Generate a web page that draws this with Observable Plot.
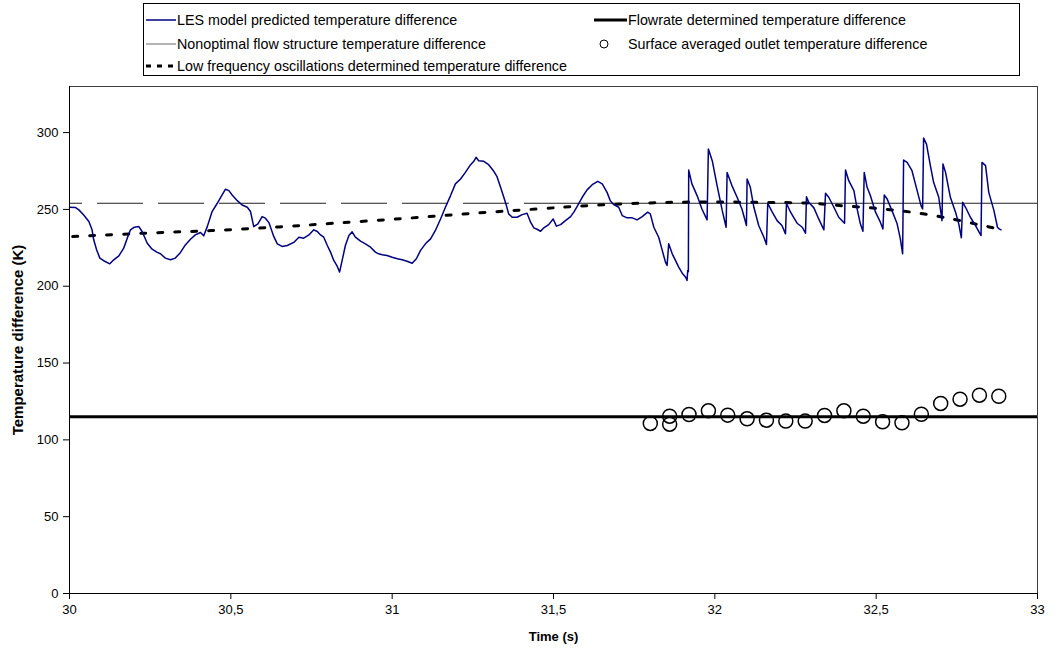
<!DOCTYPE html>
<html>
<head>
<meta charset="utf-8">
<script src="https://cdn.jsdelivr.net/npm/d3@7"></script>
<script src="https://cdn.jsdelivr.net/npm/@observablehq/plot@0.6"></script>
<style>
  html, body { margin: 0; padding: 0; background: #fff; }
  body { width: 1060px; height: 648px; overflow: hidden; font-family: "Liberation Sans", Arial, sans-serif; }
  #legend { position: relative; width: 1060px; height: 80px; }
  #legend .box { position: absolute; left: 143px; top: 3px; width: 875px; height: 71px; border: 1px solid #000; }
  #legend .item { position: absolute; height: 16px; display: flex; align-items: center; font-size: 14.3px; color: #000; white-space: nowrap; }
  #legend svg { display: block; flex: none; }
</style>
</head>
<body>
<div id="legend"><div class="box"></div></div>
<div id="chart"></div>
<script>
// LES model predicted temperature difference (s, K)
const lesTime = [
  30.000, 30.019, 30.029, 30.044, 30.060, 30.070, 30.075, 30.084, 30.094, 30.106,
  30.125, 30.137, 30.153, 30.168, 30.179, 30.189, 30.201, 30.215, 30.225, 30.241,
  30.256, 30.272, 30.282, 30.297, 30.313, 30.328, 30.344, 30.359, 30.375, 30.390,
  30.406, 30.416, 30.427, 30.442, 30.458, 30.473, 30.483, 30.494, 30.504, 30.520,
  30.535, 30.551, 30.561, 30.571, 30.584, 30.597, 30.607, 30.618, 30.633, 30.644,
  30.659, 30.675, 30.695, 30.711, 30.726, 30.742, 30.757, 30.768, 30.778, 30.788,
  30.799, 30.809, 30.819, 30.830, 30.837, 30.845, 30.855, 30.866, 30.876, 30.886,
  30.902, 30.917, 30.933, 30.948, 30.958, 30.969, 30.984, 31.000, 31.016, 31.031,
  31.046, 31.062, 31.075, 31.088, 31.103, 31.119, 31.134, 31.150, 31.165, 31.181,
  31.196, 31.212, 31.227, 31.243, 31.253, 31.260, 31.268, 31.284, 31.299, 31.315,
  31.325, 31.336, 31.346, 31.354, 31.361, 31.372, 31.387, 31.403, 31.418, 31.429,
  31.439, 31.449, 31.460, 31.470, 31.485, 31.499, 31.509, 31.522, 31.537, 31.553,
  31.563, 31.573, 31.589, 31.604, 31.620, 31.637, 31.651, 31.666, 31.676, 31.687,
  31.702, 31.713, 31.728, 31.744, 31.759, 31.775, 31.792, 31.800, 31.811, 31.826,
  31.837, 31.847, 31.852, 31.857, 31.868, 31.878, 31.888, 31.899, 31.909, 31.914,
  31.916, 31.918, 31.919, 31.929, 31.945, 31.960, 31.976, 31.980, 31.992, 32.007,
  32.023, 32.035, 32.038, 32.053, 32.069, 32.084, 32.098, 32.100, 32.110, 32.121,
  32.136, 32.152, 32.160, 32.164, 32.178, 32.193, 32.208, 32.219, 32.222, 32.234,
  32.245, 32.255, 32.271, 32.281, 32.284, 32.291, 32.307, 32.322, 32.338, 32.343,
  32.353, 32.369, 32.384, 32.402, 32.405, 32.415, 32.431, 32.441, 32.451, 32.459,
  32.463, 32.472, 32.482, 32.498, 32.513, 32.521, 32.525, 32.534, 32.549, 32.565,
  32.575, 32.582, 32.585, 32.596, 32.611, 32.627, 32.639, 32.644, 32.647, 32.656,
  32.668, 32.678, 32.694, 32.704, 32.707, 32.715, 32.730, 32.746, 32.756, 32.764,
  32.768, 32.777, 32.792, 32.808, 32.825, 32.828, 32.839, 32.849, 32.865, 32.876,
  32.881, 32.887
];
const lesValue = [
  251.4, 251.2, 249.7, 246.4, 242.1, 236.7, 230.2, 223.7, 218.3, 216.6,
  214.6, 217.2, 219.8, 224.8, 231.3, 236.7, 238.4, 238.8, 235.6, 228.0,
  224.1, 222.0, 221.1, 218.3, 217.2, 218.3, 222.0, 226.9, 230.6, 233.4,
  235.0, 232.8, 238.8, 248.6, 254.0, 259.4, 263.1, 262.2, 259.4, 255.7,
  252.9, 251.4, 248.6, 238.8, 240.6, 245.3, 244.3, 241.4, 232.4, 227.6,
  225.9, 226.5, 228.5, 231.9, 231.3, 233.4, 236.7, 235.6, 233.4, 231.9,
  226.5, 222.2, 216.8, 212.9, 209.2, 216.8, 226.5, 233.0, 235.4, 231.9,
  229.3, 227.6, 225.4, 222.2, 221.1, 220.5, 220.0, 218.9, 217.9, 217.2,
  216.3, 215.0, 217.9, 223.3, 227.6, 230.8, 236.3, 243.8, 251.4, 259.0,
  266.6, 269.8, 274.1, 279.1, 281.3, 283.9, 281.7, 281.3, 279.1, 274.8,
  271.3, 264.4, 257.9, 252.5, 247.1, 244.9, 244.9, 246.6, 247.5, 241.7,
  238.0, 237.1, 235.8, 238.0, 240.1, 243.8, 239.1, 240.1, 242.7, 245.3,
  248.2, 251.8, 257.9, 262.7, 266.1, 268.3, 266.6, 261.1, 255.7, 253.1,
  251.4, 246.0, 244.5, 244.5, 243.2, 245.3, 248.2, 247.1, 238.4, 231.9,
  223.3, 215.7, 213.5, 227.6, 221.1, 216.8, 212.4, 208.5, 206.0, 203.8,
  210.3, 209.5, 275.6, 266.6, 259.0, 250.3, 243.2, 289.3, 281.7, 265.5,
  249.2, 238.4, 274.1, 265.5, 257.9, 250.3, 239.5, 269.8, 264.4, 251.4,
  239.5, 231.9, 227.2, 254.0, 248.2, 242.7, 239.5, 234.1, 254.0, 248.5,
  244.5, 241.0, 238.4, 234.5, 258.3, 254.6, 251.0, 243.8, 236.7, 260.5,
  257.9, 251.4, 244.9, 241.0, 275.6, 268.7, 262.2, 250.3, 240.6, 235.8,
  274.1, 264.4, 259.0, 248.2, 241.7, 237.3, 259.4, 256.8, 249.2, 240.6,
  230.8, 221.1, 282.1, 280.6, 275.2, 262.2, 252.5, 250.3, 296.4, 292.5,
  278.5, 267.6, 257.9, 242.7, 279.5, 274.1, 257.9, 248.2, 240.6, 231.5,
  254.6, 251.4, 244.9, 239.5, 233.0, 280.6, 278.5, 261.1, 249.2, 238.4,
  237.3, 236.7
];

// Low frequency oscillations determined temperature difference
const lowFreqTime  = [30.01, 30.23, 30.44, 30.65, 30.82, 31.03, 31.24, 31.45, 31.61, 31.77,
                      31.93, 32.14, 32.30, 32.40, 32.51, 32.62, 32.73, 32.83, 32.88];
const lowFreqValue = [232.3, 234.5, 236.2, 238.6, 241.0, 244.0, 247.3, 250.3, 252.5, 254.0,
                      254.8, 254.6, 254.0, 252.3, 250.5, 247.9, 244.0, 239.5, 237.3];

// Surface averaged outlet temperature difference
const outletTime  = [31.80, 31.86, 31.86, 31.92, 31.98, 32.04, 32.10, 32.16, 32.22, 32.28,
                     32.34, 32.40, 32.46, 32.52, 32.58, 32.64, 32.70, 32.76, 32.82, 32.88];
const outletValue = [110.7, 115.4, 110.2, 116.5, 118.9, 116.1, 113.7, 112.8, 112.2, 112.2,
                     115.9, 118.9, 115.4, 111.8, 111.1, 116.7, 123.7, 126.5, 129.1, 128.4];

// Constant reference levels
const flowrateLevel = 115;
const nonoptimalLevel = 254;
const nonoptimalDashedUntil = 31.55;

// Axis ticks
const xTicks = [30, 30.5, 31, 31.5, 32, 32.5, 33];
const yTicks = [0, 50, 100, 150, 200, 250, 300];

// Legend entries
const legendLabels = [
  "LES model predicted temperature difference",
  "Nonoptimal flow structure temperature difference",
  "Low frequency oscillations determined temperature difference",
  "Flowrate determined temperature difference",
  "Surface averaged outlet temperature difference"
];

const les = lesTime.map((t, i) => ({t, v: lesValue[i]}));
const lowFreq = lowFreqTime.map((t, i) => ({t, v: lowFreqValue[i]}));
const outlet = outletTime.map((t, i) => ({t, v: outletValue[i]}));

const navy = "#000080";
const commaFormat = d => String(d).replace(".", ",");

const chart = Plot.plot({
  width: 1060,
  height: 568,
  marginLeft: 69,
  marginRight: 23,
  marginTop: 6,
  marginBottom: 55,
  style: {fontFamily: "'Liberation Sans', Arial, sans-serif", fontSize: "13px", color: "#000", background: "#fff"},
  x: {domain: [30, 33]},
  y: {domain: [0, 330]},
  marks: [
    Plot.frame({stroke: "#404040", strokeWidth: 1}),
    Plot.ruleY([flowrateLevel], {stroke: "#000", strokeWidth: 3}),
    Plot.ruleY([nonoptimalLevel], {x1: 30, x2: nonoptimalDashedUntil, stroke: "#222", strokeWidth: 1, strokeDasharray: "46,15", strokeDashoffset: 33}),
    Plot.ruleY([nonoptimalLevel], {x1: nonoptimalDashedUntil, x2: 33, stroke: "#222", strokeWidth: 1}),
    Plot.line(lowFreq, {x: "t", y: "v", stroke: "#000", strokeWidth: 3, strokeDasharray: "5,12", curve: "catmull-rom"}),
    Plot.line(les, {x: "t", y: "v", stroke: navy, strokeWidth: 1.5, strokeLinejoin: "round"}),
    Plot.dot(outlet, {x: "t", y: "v", r: 7, stroke: "#000", strokeWidth: 1.5, fill: "none"}),
    Plot.ruleX([30], {stroke: "#000"}),
    Plot.ruleY([0], {stroke: "#000"}),
    Plot.axisX({ticks: xTicks, tickFormat: commaFormat, tickSize: 6, tickPadding: 5, label: null, fontSize: 13}),
    Plot.axisY({ticks: yTicks, tickSize: 6, tickPadding: 5, label: null, fontSize: 13}),
    Plot.text(["Time (s)"], {frameAnchor: "bottom", dy: 47, fontWeight: "bold", fontSize: 13}),
    Plot.text(["Temperature difference (K)"], {frameAnchor: "left", textAnchor: "middle", dx: -51, rotate: -90, fontWeight: "bold", fontSize: 15})
  ]
});
document.getElementById("chart").appendChild(chart);

// Legend: swatch drawings and positions of each entry
const legendEl = document.getElementById("legend");
const swatches = [
  `<svg width="30" height="16"><line x1="0" y1="8" x2="30" y2="8" stroke="${navy}" stroke-width="1.5"/></svg>`,
  `<svg width="30" height="16"><line x1="0" y1="8" x2="30" y2="8" stroke="#808080" stroke-width="1.2"/></svg>`,
  `<svg width="30" height="16"><line x1="0" y1="8" x2="30" y2="8" stroke="#000" stroke-width="3" stroke-dasharray="5,6"/></svg>`,
  `<svg width="33" height="16"><line x1="0" y1="8" x2="33" y2="8" stroke="#000" stroke-width="3"/></svg>`,
  `<svg width="33" height="16"><circle cx="10" cy="8" r="4" fill="none" stroke="#000" stroke-width="1"/></svg>`
];
const positions = [[146, 12], [146, 36], [146, 58], [594, 12], [594, 36]];
legendLabels.forEach((label, i) => {
  const item = document.createElement("div");
  item.className = "item";
  item.style.left = positions[i][0] + "px";
  item.style.top = positions[i][1] + "px";
  item.innerHTML = swatches[i] + `<span style="margin-left:1px">${label}</span>`;
  legendEl.appendChild(item);
});
</script>
</body>
</html>
